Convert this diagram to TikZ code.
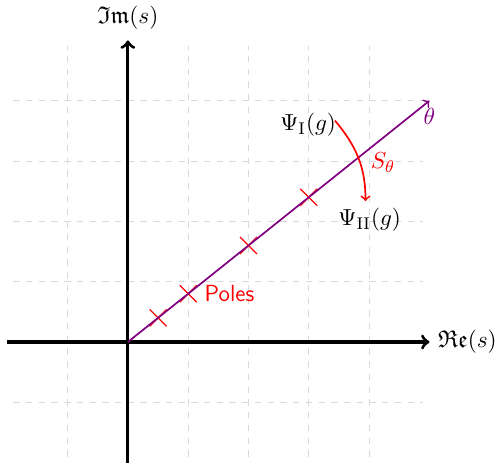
\documentclass[tikz,border=0pt]{standalone}
\usepackage{amssymb}
\begin{document}
\begin{tikzpicture}[
  every node/.style={font=\fontsize{11.4}{13.7}\selectfont},
  gridline/.style={gray!30, dashed, thin},
  axis/.style={line width=1.5pt, ->, black},
  ray/.style={violet, thick, ->},
  polemark/.style={red, semithick},
  redlab/.style={red},
]
\useasboundingbox (-2.12,-2) rectangle (6.12,5.67);
\draw[gridline] (-1.9,-1.9) grid (4.9,4.9);
\draw[axis] (-2,0) -- (5,0) node[right] (re) {$\mathfrak{Re}(s)$};
\draw[axis] (0,-2) -- (0,5) node[above, yshift=1pt] (im) {$\mathfrak{Im}(s)$};
\foreach \x/\n in {0.5/p1,1/p2,2/p3,3/p4}{
  \coordinate (\n) at (\x,0.8*\x);
  \draw[polemark] ([shift={(-0.14,-0.14)}]\n) -- ([shift={(0.14,0.14)}]\n);
  \draw[polemark] ([shift={(-0.14,0.14)}]\n) -- ([shift={(0.14,-0.14)}]\n);
}
\coordinate (o) at (0,0);
\coordinate (e) at (5,4);
\draw[ray] (o) -- (e) node[below, text=violet] (th) {$\theta$};
\node[redlab, anchor=west, font=\fontsize{11}{13}\sffamily] (poles) at ([xshift=0.15cm]p2) {Poles};
\node (psi1) at (2.99,3.6) {$\Psi_{\mathrm{I}}(g)$};
\node (psi2) at (4.01,2.02) {$\Psi_{\mathrm{II}}(g)$};
\draw[red, thick, ->] ([xshift=-4pt,yshift=2pt]psi1.east) to[out=-50,in=90] ([xshift=-2pt]psi2.north);
\node[redlab] (s) at (4.23,2.97) {$S_\theta$};
\end{tikzpicture}
\end{document}
